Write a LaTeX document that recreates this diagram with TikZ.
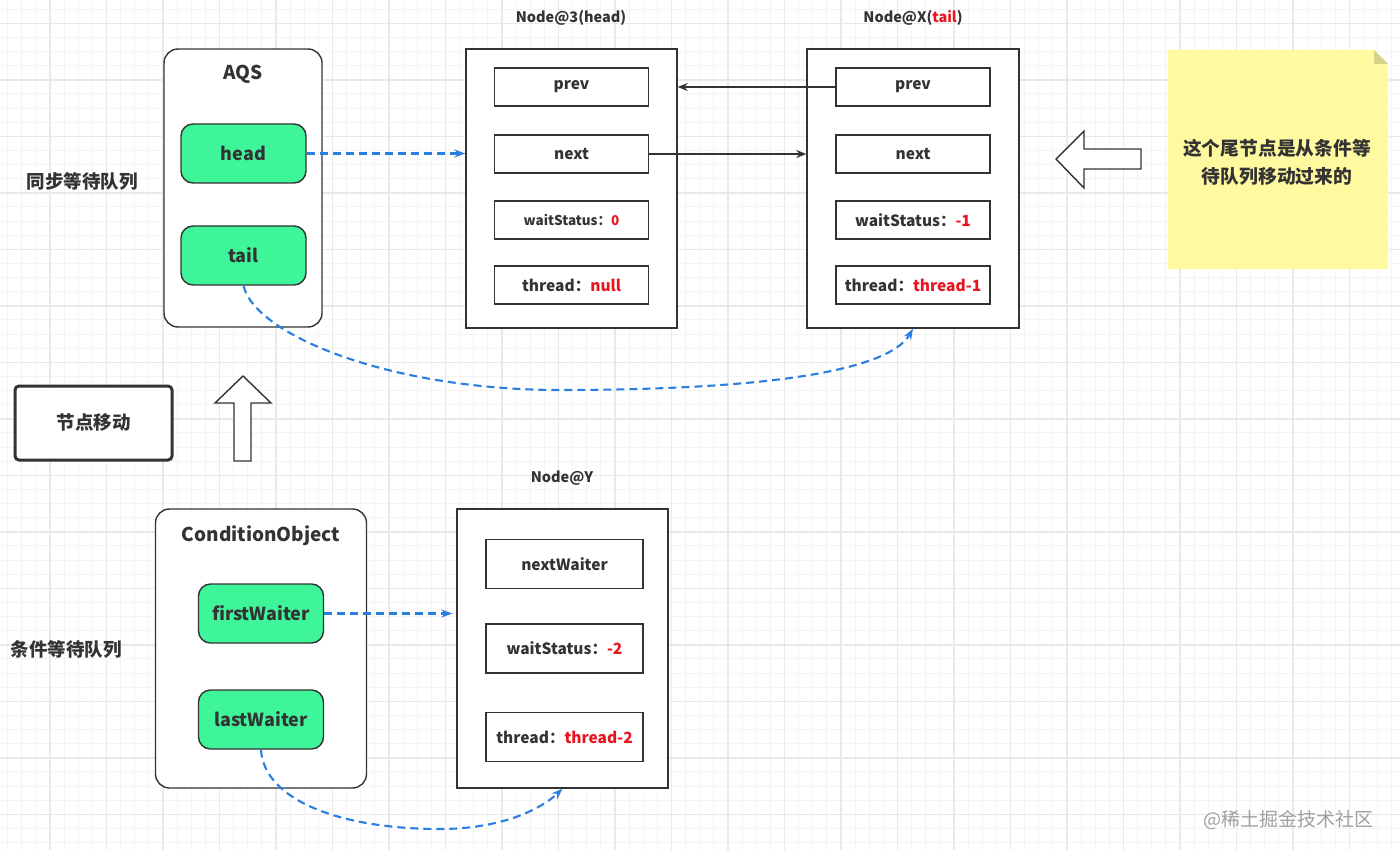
\documentclass[tikz,border=0pt]{standalone}
\usepackage{fontspec}
\setmainfont{Noto Sans CJK SC}
\usetikzlibrary{arrows.meta}
\definecolor{dark}{HTML}{333333}
\definecolor{mint}{HTML}{3EF59A}
\definecolor{flowblue}{HTML}{2A7DE1}
\definecolor{valred}{HTML}{E8141E}
\definecolor{noteyellow}{HTML}{FFFAA0}
\definecolor{notefold}{HTML}{D6D38A}
\definecolor{gridminor}{HTML}{F4F4F4}
\definecolor{gridmajor}{HTML}{E9E9E9}
\definecolor{wmgray}{HTML}{A0A0A0}
\tikzset{
  container/.style={draw=dark, line width=1.4pt, fill=white, inner sep=0pt},
  field/.style={draw=dark, line width=1.4pt, fill=white, minimum width=154pt, minimum height=38pt, inner sep=0pt, text=dark, font=\fontsize{15.5}{18}\selectfont\bfseries},
  smallfield/.style={field, font=\fontsize{13.5}{16}\selectfont\bfseries},
  ptr/.style={draw=dark, line width=1.4pt, fill=mint, rounded corners=12pt, minimum width=125pt, minimum height=59pt, inner sep=0pt, text=dark, font=\fontsize{18}{22}\selectfont\bfseries},
  title/.style={text=dark, inner sep=0pt, font=\fontsize{19}{23}\selectfont\bfseries},
  header/.style={text=dark, inner sep=0pt, font=\fontsize{14.5}{18}\selectfont\bfseries},
  cjklabel/.style={text=dark, inner sep=0pt, font=\fontsize{18.5}{22}\selectfont\bfseries},
  solidarrow/.style={draw=dark, line width=1.3pt, -{Stealth[length=10pt,width=8pt]}},
  bluearrow/.style={draw=flowblue, line width=2.1pt, dash pattern=on 8pt off 5pt, -{Stealth[length=11pt,width=8pt]}},
  hollow/.style={draw=dark, line width=1.4pt, fill=white, line join=miter},
  val/.style={text=valred}
}
\begin{document}
\begin{tikzpicture}[x=1pt,y=-1pt]
\useasboundingbox (0,0) rectangle (1400,850);
\fill[white] (0,0) rectangle (1400,850);
% grid
\foreach \i in {0,...,100} {
  \draw[gridminor, line width=0.8pt] ({-6.5+\i*14.125},0) -- ++(0,850);
}
\foreach \i in {0,...,62} {
  \draw[gridminor, line width=0.8pt] (0,{-5+\i*14.125}) -- ++(1400,0);
}
\foreach \i in {0,...,25} {
  \draw[gridmajor, line width=1.1pt] ({-6.5+\i*56.5},0) -- ++(0,850);
}
\foreach \i in {0,...,16} {
  \draw[gridmajor, line width=1.1pt] (0,{23.5+\i*56.5}) -- ++(1400,0);
}

% ---------- AQS ----------
\node[container, rounded corners=14pt, minimum width=158pt, minimum height=278pt] (aqs) at (243,188) {};
\node[title] (aqst) at (243,74) {AQS};
\node[ptr] (head) at (243.5,153.5) {head};
\node[ptr] (tail) at (243.5,255.5) {tail};
\node[cjklabel] (syncl) at (82,181) {同步等待队列};

% ---------- Node@3 ----------
\node[container, minimum width=211pt, minimum height=279pt] (n3) at (571.5,188.5) {};
\node[header] (n3h) at (571,18) {Node@3(head)};
\node[field] (n3prev) at (571.5,87) {prev};
\node[field] (n3next) at (571.5,154) {next};
\node[smallfield] (n3ws) at (571.5,220) {waitStatus：\textcolor{valred}{0}};
\node[field] (n3th) at (571.5,285) {thread：\textcolor{valred}{null}};

% ---------- Node@X ----------
\node[container, minimum width=212pt, minimum height=279pt] (nx) at (913,188.5) {};
\node[header] (nxh) at (913,18) {Node@X(\textcolor{valred}{tail})};
\node[field] (nxprev) at (913,87) {prev};
\node[field] (nxnext) at (913,154) {next};
\node[field] (nxws) at (913,220) {waitStatus：\textcolor{valred}{-1}};
\node[field] (nxth) at (913,285) {thread：\textcolor{valred}{thread-1}};

% connectors top
\draw[solidarrow] (nxprev.west) -- (nxprev.west -| n3.east);
\draw[solidarrow] (n3next.east) -- (n3next.east -| nx.west);
\draw[bluearrow] (head.east) -- (head.east -| n3.west);
\coordinate (tailmid) at (560,390);
\draw[bluearrow] (tail.south) .. controls (255,335) and (390,390) .. (tailmid) .. controls (760,390) and (888,372) .. (nx.south);

% big left hollow arrow
\draw[hollow] (1056,159) -- (1084,131) -- (1084,149) -- (1141,149) -- (1141,169) -- (1084,169) -- (1084,188) -- cycle;

% sticky note
\fill[noteyellow] (1168,50) -- (1374,50) -- (1388,64) -- (1388,269) -- (1168,269) -- cycle;
\fill[notefold] (1374,50) -- (1374,64) -- (1388,64) -- cycle;
\node[cjklabel, align=center, font=\fontsize{18.8}{28}\selectfont\bfseries] (note) at (1277,162) {这个尾节点是从条件等\\待队列移动过来的};

% ---------- node move ----------
\node[draw=dark, line width=3pt, rounded corners=4pt, fill=white, minimum width=157pt, minimum height=74pt, inner sep=0pt, text=dark, font=\fontsize{18.5}{22}\selectfont\bfseries] (move) at (93.5,423) {节点移动};
\draw[hollow] (243,376) -- (271,403) -- (251,403) -- (251,461) -- (234,461) -- (234,403) -- (215,403) -- cycle;

% ---------- ConditionObject ----------
\node[container, rounded corners=14pt, minimum width=211pt, minimum height=279pt] (co) at (261,648.5) {};
\node[title] (cot) at (261,536) {ConditionObject};
\node[ptr] (fw) at (261,613.5) {firstWaiter};
\node[ptr] (lw) at (261,719.5) {lastWaiter};
\node[cjklabel] (condl) at (66,649) {条件等待队列};

% ---------- Node@Y ----------
\node[container, minimum width=211pt, minimum height=279pt] (ny) at (562.5,648.5) {};
\node[header] (nyh) at (562,478) {Node@Y};
\node[field, minimum width=157pt, minimum height=49pt] (nynw) at (564.5,564) {nextWaiter};
\node[field, minimum width=157pt, minimum height=49pt] (nyws) at (564.5,648.5) {waitStatus：\textcolor{valred}{-2}};
\node[field, minimum width=157pt, minimum height=49pt] (nyth) at (564.5,737) {thread：\textcolor{valred}{thread-2}};

\draw[bluearrow, shorten >=4pt] (fw.east) -- (fw.east -| ny.west);
\coordinate (lwmid) at (440,829);
\draw[bluearrow] (lw.south) .. controls (264,800) and (340,829) .. (lwmid) .. controls (500,829) and (540,810) .. (ny.south);

% watermark
\node[text=wmgray, inner sep=0pt, font=\fontsize{19}{22}\selectfont] (wm) at (1288,820) {@稀土掘金技术社区};
\end{tikzpicture}
\end{document}
